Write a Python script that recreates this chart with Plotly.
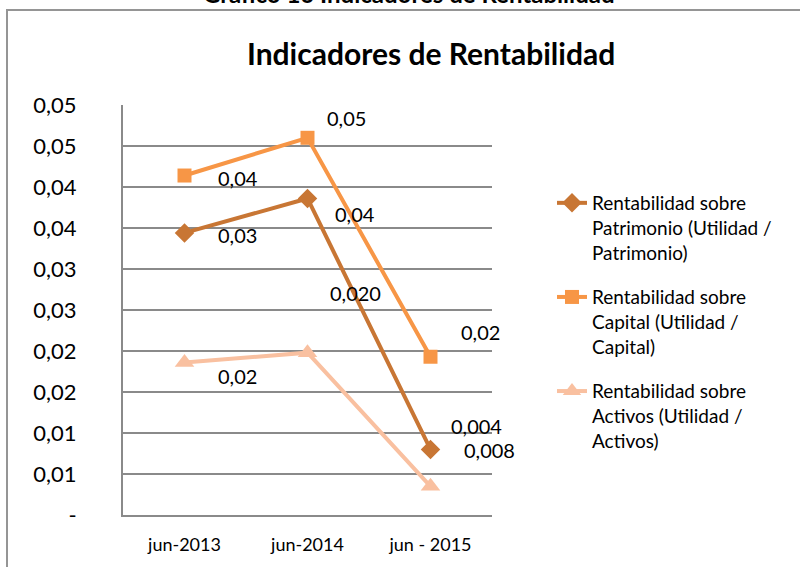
import plotly.graph_objects as go

categories = ["jun-2013", "jun-2014", "jun - 2015"]
patrimonio = [0.0344, 0.0386, 0.0080]
capital = [0.0414, 0.0460, 0.0193]
activos = [0.0186, 0.0198, 0.0035]
pat_labels = ["0,03", "0,04", "0,008"]
cap_labels = ["0,04", "0,05", "0,02"]
act_labels = ["0,02", "0,020", "0,004"]
ytick_vals = [0, 0.005, 0.01, 0.015, 0.02, 0.025, 0.03, 0.035, 0.04, 0.045, 0.05]
ytick_text = ["-", "0,01", "0,01", "0,02", "0,02", "0,03", "0,03", "0,04", "0,04", "0,05", "0,05"]
names = [
    "Rentabilidad sobre<br>Patrimonio (Utilidad /<br>Patrimonio)",
    "Rentabilidad sobre<br>Capital (Utilidad /<br>Capital)",
    "Rentabilidad sobre<br>Activos (Utilidad /<br>Activos)",
]

FONT = "Lato"
c_pat, c_cap, c_act = "#C87634", "#F79646", "#F9C0A0"

fig = go.Figure()
fig.add_trace(go.Scatter(x=categories, y=patrimonio, name=names[0], mode="lines+markers",
                         line=dict(color=c_pat, width=4),
                         marker=dict(symbol="diamond", size=15, color=c_pat),
                         legendgroup="a"))
fig.add_trace(go.Scatter(x=categories, y=capital, name=names[1], mode="lines+markers",
                         line=dict(color=c_cap, width=4),
                         marker=dict(symbol="square", size=14, color=c_cap),
                         legendgroup="b"))
fig.add_trace(go.Scatter(x=categories, y=activos, name=names[2], mode="lines+markers",
                         line=dict(color=c_act, width=4),
                         marker=dict(symbol="triangle-up", size=17, color=c_act),
                         legendgroup="c"))

# label offsets in pixels (dx, dy with dy positive downward)
pat_off = [(53, 2), (47, 16), (59, 1)]
cap_off = [(53, 2), (39, -20), (50, -25)]
act_off = [(53, 14), (48, -60), (46, -60)]
annotations = []
for vals, labs, offs in [(patrimonio, pat_labels, pat_off), (capital, cap_labels, cap_off), (activos, act_labels, act_off)]:
    for cat, v, lab, (dx, dy) in zip(categories, vals, labs, offs):
        annotations.append(dict(x=cat, y=v, xref="x", yref="y", text=lab, showarrow=False,
                                xshift=dx, yshift=-dy, font=dict(family=FONT, size=20, color="black")))

# titles
annotations.append(dict(x=(431 - 123) / 369, y=(515 - 53) / 410, xref="paper", yref="paper",
                        text="<b>Indicadores de Rentabilidad</b>", showarrow=False,
                        xanchor="center", yanchor="middle", font=dict(family=FONT, size=30, color="black")))
annotations.append(dict(x=(409 - 123) / 369, y=(515 - 10) / 410, xref="paper", yref="paper",
                        text="<b>Gráfico 16 Indicadores de Rentabilidad</b>", showarrow=False,
                        xanchor="center", yanchor="bottom", font=dict(family=FONT, size=24, color="black")))

fig.update_layout(
    width=800, height=567,
    margin=dict(l=123, r=308, t=105, b=52),
    paper_bgcolor="white", plot_bgcolor="white",
    showlegend=True,
    legend=dict(x=(552 - 123) / 369, y=(515 - 184) / 410, xanchor="left", yanchor="top",
                font=dict(family=FONT, size=19, color="black"), valign="top",
                tracegroupgap=17, bgcolor="rgba(0,0,0,0)"),
    annotations=annotations,
    shapes=[dict(type="rect", xref="paper", yref="paper",
                 x0=(7 - 123) / 369, x1=(812 - 123) / 369,
                 y0=(515 - 600) / 410, y1=(515 - 10) / 410,
                 line=dict(color="#959595", width=2), layer="below")],
    xaxis=dict(showgrid=False, showline=True, linecolor="#8a8a8a", linewidth=2,
               range=[-0.5, 2.5],
               ticks="", tickfont=dict(family=FONT, size=18, color="black"),
               ticklabelstandoff=12, fixedrange=True),
    yaxis=dict(range=[0, 0.05], tickvals=ytick_vals, ticktext=ytick_text,
               showgrid=True, gridcolor="#8a8a8a", gridwidth=2,
               showline=True, linecolor="#8a8a8a", linewidth=2,
               zeroline=False, ticks="", tickfont=dict(family=FONT, size=22, color="black"),
               ticklabelstandoff=40, fixedrange=True),
    font=dict(family=FONT),
    hovermode=False,
)

fig.write_html("out.html", config={"displayModeBar": False},
               post_script="document.body.style.margin='0';document.body.style.overflow='hidden';")
